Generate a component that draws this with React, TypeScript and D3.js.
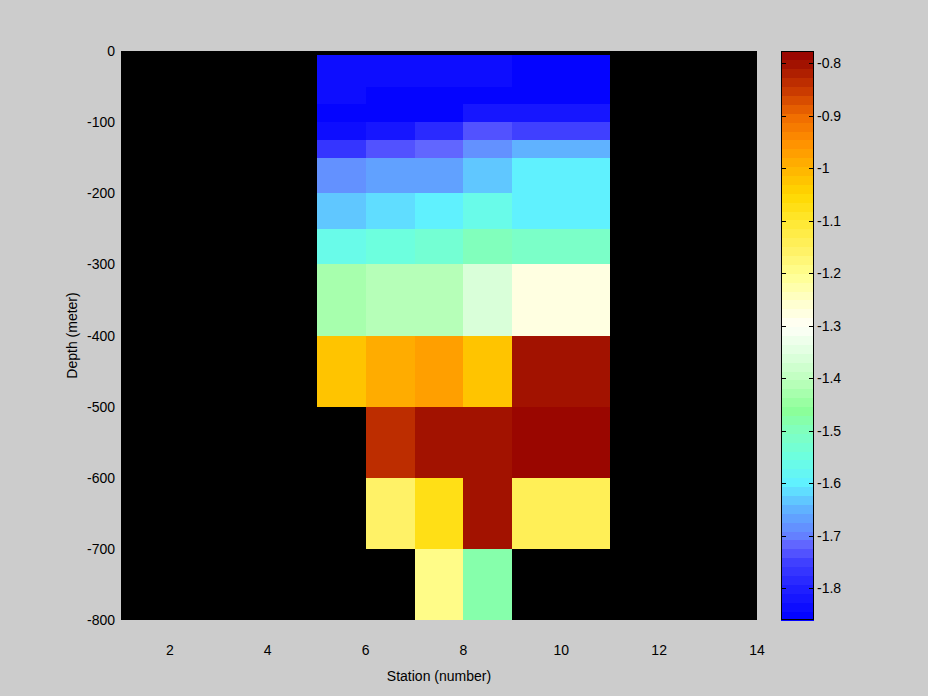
import React from "react";
import * as d3 from "d3";

// Grid: station edges and depth edges (pcolor-style cells)
const stationEdges = [5, 6, 7, 8, 9, 11];
const depthEdges = [-5, -50, -75, -100, -125, -150, -200, -250, -300, -400, -500, -600, -700, -800];

// Values per station column (one value per depth cell, top to bottom)
const st5 = [-1.84, -1.84, -1.855, -1.84, -1.77, -1.69, -1.635, -1.565, -1.425, -1.02, NaN, NaN, NaN];
const st6 = [-1.84, -1.855, -1.855, -1.82, -1.735, -1.66, -1.615, -1.55, -1.41, -0.995, -0.83, -1.15, NaN];
const st7 = [-1.84, -1.855, -1.855, -1.79, -1.715, -1.66, -1.6, -1.535, -1.41, -0.97, -0.8, -1.08, -1.19];
const st8 = [-1.84, -1.855, -1.82, -1.735, -1.675, -1.64, -1.565, -1.49, -1.355, -1.02, -0.8, -0.8, -1.48];
const st9 = [-1.855, -1.845, -1.82, -1.745, -1.655, -1.6, -1.6, -1.51, -1.28, -0.8, -0.78, -1.14, NaN];
const columns = [st5, st6, st7, st8, st9];

// Color limits and colormap stops
const cMin = -1.8604;
const cMax = -0.7766;
const stopValues = [-1.8604, -1.8, -1.75, -1.72, -1.7, -1.65, -1.6, -1.55, -1.5, -1.46, -1.4, -1.35, -1.3, -1.25, -1.2, -1.15, -1.1, -1.05, -1.0, -0.95, -0.9, -0.85, -0.8, -0.7766];
const stopColors = ["#0000ff", "#2020ff", "#4040ff", "#6060ff", "#6480ff", "#60b0ff", "#60f0ff", "#6cffe0", "#80ffc0", "#8cff98", "#c0ffc0", "#e0ffe0", "#fffff8", "#ffffc8", "#ffff90", "#fff060", "#ffe830", "#ffd800", "#ffb400", "#ff9000", "#f06c00", "#c83800", "#a01000", "#960000"];
const nLevels = 64;

const xTicks = [2, 4, 6, 8, 10, 12, 14];
const yTicks = [0, -100, -200, -300, -400, -500, -600, -700, -800];
const cTicks = [-0.8, -0.9, -1.0, -1.1, -1.2, -1.3, -1.4, -1.5, -1.6, -1.7, -1.8];

const W = 928, H = 696;
const plot = { left: 121, right: 757, top: 51, bottom: 620 };
const cbar = { left: 781, right: 814, top: 51, bottom: 620 };
const font = "'Liberation Sans', Arial, Helvetica, sans-serif";

export default function App() {
  const x = d3.scaleLinear().domain([1, 14]).range([plot.left, plot.right]);
  const y = d3.scaleLinear().domain([0, -800]).range([plot.top, plot.bottom]);
  const cont = d3.scaleLinear<string>().domain(stopValues).range(stopColors).interpolate(d3.interpolateRgb).clamp(true);
  const levelColors = d3.range(nLevels).map((k) => cont(cMin + ((k + 0.5) / nLevels) * (cMax - cMin)));
  const colorOf = (v: number) => {
    let k = Math.floor(((v - cMin) / (cMax - cMin)) * nLevels);
    k = Math.max(0, Math.min(nLevels - 1, k));
    return levelColors[k];
  };
  const cy = d3.scaleLinear().domain([cMin, cMax]).range([cbar.bottom, cbar.top]);

  const cells: React.ReactNode[] = [];
  columns.forEach((col, i) => {
    col.forEach((v, j) => {
      if (isNaN(v)) return;
      const x0 = x(stationEdges[i]);
      const x1 = x(stationEdges[i + 1]);
      const y0 = y(depthEdges[j]);
      const y1 = y(depthEdges[j + 1]);
      cells.push(
        <rect key={`c${i}-${j}`} x={x0} y={y0} width={x1 - x0} height={y1 - y0} fill={colorOf(v)} shapeRendering="crispEdges" />
      );
    });
  });

  return (
    <svg width={W} height={H} style={{ position: "absolute", left: 0, top: 0, display: "block" }} fontFamily={font}>
      <rect x={0} y={0} width={W} height={H} fill="#cccccc" />
      <rect x={plot.left} y={plot.top} width={plot.right - plot.left} height={plot.bottom - plot.top} fill="#000000" shapeRendering="crispEdges" />
      {cells}
      {/* x tick labels */}
      {xTicks.map((t) => (
        <text key={`xt${t}`} x={x(t)} y={655} fontSize={14} textAnchor="middle" fill="#000">{String(t)}</text>
      ))}
      <text x={(plot.left + plot.right) / 2} y={681} fontSize={14} textAnchor="middle" fill="#000">Station (number)</text>
      {/* y tick labels */}
      {yTicks.map((t) => (
        <text key={`yt${t}`} x={115} y={y(t) + 5} fontSize={14} textAnchor="end" fill="#000">{String(t)}</text>
      ))}
      <text transform={`translate(77,${(plot.top + plot.bottom) / 2}) rotate(-90)`} fontSize={14} textAnchor="middle" fill="#000">Depth (meter)</text>
      {/* colorbar */}
      {levelColors.map((c, k) => {
        const v0 = cMin + (k / nLevels) * (cMax - cMin);
        const v1 = cMin + ((k + 1) / nLevels) * (cMax - cMin);
        return (
          <rect key={`cb${k}`} x={cbar.left} y={cy(v1)} width={cbar.right - cbar.left} height={cy(v0) - cy(v1) + 0.5} fill={c} shapeRendering="crispEdges" />
        );
      })}
      <rect x={cbar.left + 0.5} y={cbar.top + 0.5} width={cbar.right - cbar.left - 1} height={cbar.bottom - cbar.top - 1} fill="none" stroke="#000" strokeWidth={1} shapeRendering="crispEdges" />
      {cTicks.map((t) => (
        <g key={`ct${t}`}>
          <line x1={cbar.left} x2={cbar.left + 5} y1={Math.round(cy(t)) + 0.5} y2={Math.round(cy(t)) + 0.5} stroke="#000" shapeRendering="crispEdges" />
          <line x1={cbar.right - 5} x2={cbar.right} y1={Math.round(cy(t)) + 0.5} y2={Math.round(cy(t)) + 0.5} stroke="#000" shapeRendering="crispEdges" />
          <text x={cbar.right + 3} y={cy(t) + 5} fontSize={14} fill="#000">{String(Math.round(t * 10) / 10)}</text>
        </g>
      ))}
    </svg>
  );
}
